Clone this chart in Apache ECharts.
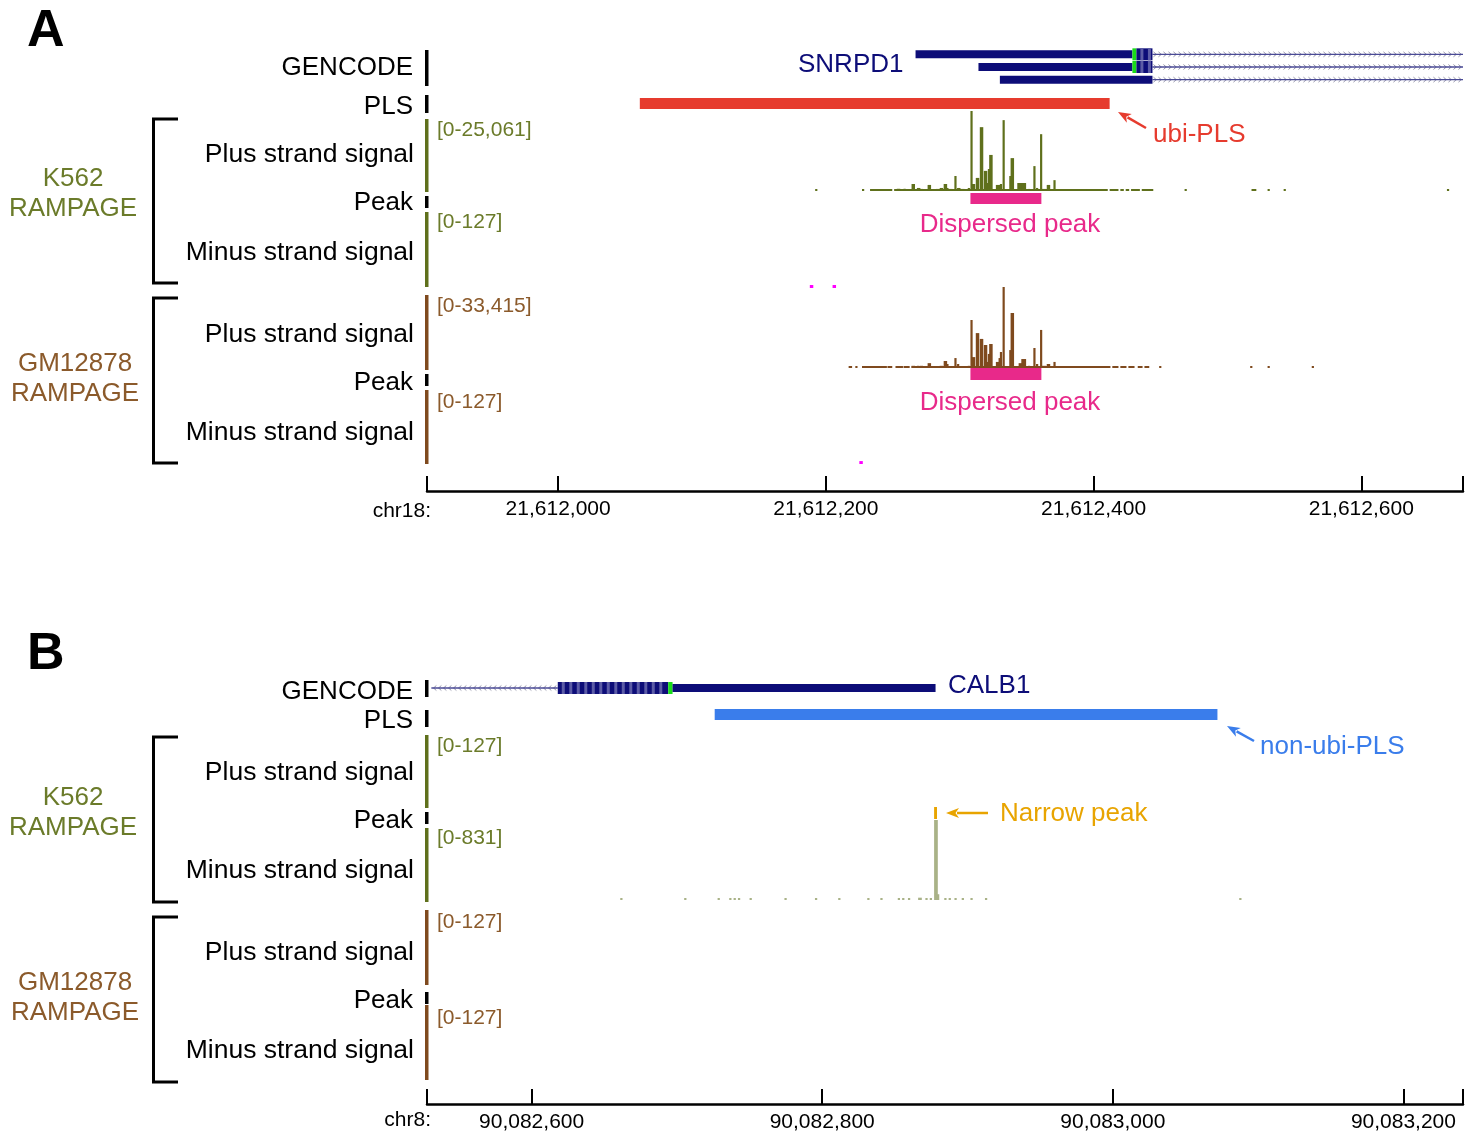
<!DOCTYPE html>
<html>
<head>
<meta charset="utf-8">
<script src="https://cdn.jsdelivr.net/npm/echarts@6/dist/echarts.min.js"></script>
<style>
  html, body { margin: 0; padding: 0; background: #fff; }
  #chart { width: 1475px; height: 1133px; }
</style>
</head>
<body>
<div id="chart"></div>
<script>
// ---------- panel A : chr18, SNRPD1 ----------
const rangeA = [21611902, 21612676]
const ticksA = [21612000, 21612200, 21612400, 21612600]

// gene parts: [start, end, transcript row, part]
const snrpd1 = [
  [21612444, 21612676, 0, 'intron'],
  [21612267, 21612429, 0, 'cds'],
  [21612429, 21612432, 0, 'start'],
  [21612432, 21612444, 0, 'utr'],
  [21612444, 21612676, 1, 'intron'],
  [21612314, 21612429, 1, 'cds'],
  [21612429, 21612432, 1, 'start'],
  [21612432, 21612444, 1, 'utr'],
  [21612444, 21612676, 2, 'intron'],
  [21612330, 21612444, 2, 'cds']
]
const plsA = [[21612061, 21612412]]
const k562PeakA = [[21612308, 21612361]]
const gmPeakA = [[21612308, 21612361]]

// signal: [start, end, value]
const k562PlusA = [
  [21612192, 21612193, 550], [21612227, 21612228, 550], [21612233, 21612249, 550],
  [21612251, 21612259, 550], [21612259, 21612395, 550], [21612395, 21612410, 550],
  [21612412, 21612418, 550], [21612420, 21612422, 550], [21612424, 21612426, 550],
  [21612428, 21612434, 550], [21612436, 21612444, 550], [21612468, 21612469, 550],
  [21612518, 21612521, 550], [21612530, 21612531, 550], [21612542, 21612543, 550],
  [21612664, 21612665, 550],
  [21612253, 21612255, 700], [21612258, 21612259, 700], [21612264, 21612266, 2200],
  [21612268, 21612270, 950], [21612270, 21612272, 650], [21612276, 21612278, 1900],
  [21612282, 21612284, 650], [21612285, 21612287, 950], [21612288, 21612290, 2200],
  [21612290, 21612291, 950], [21612292, 21612294, 650], [21612296, 21612297, 4700],
  [21612298, 21612300, 950], [21612301, 21612303, 650], [21612306, 21612307, 950],
  [21612308, 21612309, 25061], [21612309, 21612311, 2200], [21612312, 21612314, 4100],
  [21612315, 21612317, 20000], [21612318, 21612320, 6300], [21612320, 21612321, 2500],
  [21612321, 21612322, 6900], [21612322, 21612324, 11300], [21612327, 21612330, 1900],
  [21612330, 21612331, 2200], [21612332, 21612333, 22200], [21612337, 21612338, 4700],
  [21612338, 21612340, 10300], [21612343, 21612346, 2500], [21612346, 21612349, 2500],
  [21612351, 21612352, 650], [21612355, 21612356, 7800], [21612357, 21612358, 950],
  [21612360, 21612361, 17800], [21612361, 21612364, 650], [21612365, 21612367, 1900],
  [21612370, 21612371, 3400]
]
const k562MinusA = [[21612188, 21612190, 5], [21612205, 21612207, 5]]
const gmPlusA = [
  [21612217, 21612219, 750], [21612222, 21612223, 750], [21612227, 21612245, 750],
  [21612246, 21612249, 750], [21612252, 21612257, 750], [21612258, 21612262, 750],
  [21612264, 21612412, 750], [21612414, 21612418, 750], [21612420, 21612424, 750],
  [21612426, 21612430, 750], [21612433, 21612436, 750], [21612438, 21612441, 750],
  [21612449, 21612450, 750], [21612517, 21612518, 750], [21612530, 21612531, 750],
  [21612563, 21612564, 750],
  [21612264, 21612266, 900], [21612268, 21612269, 900], [21612270, 21612272, 900],
  [21612276, 21612278, 2000], [21612285, 21612287, 900], [21612288, 21612290, 2900],
  [21612290, 21612291, 1650], [21612296, 21612297, 4100], [21612298, 21612299, 1650],
  [21612306, 21612307, 900], [21612308, 21612309, 19800], [21612309, 21612311, 4500],
  [21612312, 21612314, 14400], [21612315, 21612317, 12000], [21612318, 21612320, 9500],
  [21612320, 21612321, 2500], [21612321, 21612322, 5800], [21612322, 21612324, 9900],
  [21612327, 21612329, 2500], [21612329, 21612330, 4100], [21612330, 21612331, 6600],
  [21612332, 21612333, 33415], [21612337, 21612338, 7400], [21612338, 21612340, 22700],
  [21612344, 21612346, 2000], [21612346, 21612349, 3700], [21612351, 21612352, 900],
  [21612355, 21612356, 8250], [21612357, 21612358, 1650], [21612360, 21612361, 15700],
  [21612361, 21612364, 900], [21612365, 21612367, 1650], [21612370, 21612371, 2500]
]
const gmMinusA = [[21612225, 21612227, 5]]

// ---------- panel B : chr8, CALB1 ----------
const rangeB = [90082528, 90083241]
const ticksB = [90082600, 90082800, 90083000, 90083200]

const calb1 = [
  [90082531, 90082618, 0, 'intron'],
  [90082618, 90082694, 0, 'utr'],
  [90082694, 90082697, 0, 'start'],
  [90082697, 90082878, 0, 'cds']
]
const plsB = [[90082726, 90083072]]
const k562PeakB = [[90082877, 90082879]]
const k562MinusB = [
  [90082661, 90082662, 12], [90082705, 90082706, 12], [90082728, 90082729, 12],
  [90082736, 90082737, 20], [90082739, 90082740, 12], [90082742, 90082743, 16],
  [90082750, 90082751, 12], [90082774, 90082775, 12], [90082795, 90082796, 12],
  [90082811, 90082812, 12], [90082831, 90082832, 12], [90082840, 90082841, 16],
  [90082852, 90082853, 12], [90082855, 90082856, 20], [90082859, 90082860, 12],
  [90082866, 90082868, 24], [90082871, 90082872, 16], [90082874, 90082875, 20],
  [90082877, 90082879, 831], [90082879, 90082880, 60], [90082884, 90082885, 20],
  [90082887, 90082888, 12], [90082891, 90082892, 16], [90082896, 90082897, 12],
  [90082902, 90082903, 12], [90082912, 90082913, 12], [90083087, 90083088, 12]
]

// ---------- styles ----------
const FONT = '"Liberation Sans", Arial, Helvetica, sans-serif'
const NAVY = '#0d0d78'
const OLIVE = '#5f701c'
const OLIVE_TXT = '#6b7b2a'
const BROWN = '#7f4a1e'
const BROWN_TXT = '#8b5a2b'
const PINK = '#e8298a'
const RED = '#e63b2e'
const BLUE = '#3a7deb'
const ORANGE = '#e8a400'
const PALE = '#a9b287'
const MAGENTA = '#ff00ff'

// track layout: [top, height]
const tracks = [
  { pos: [48, 38], range: rangeA, type: 'gene', data: snrpd1, rows: 3, strand: '+' },
  { pos: [98, 11], range: rangeA, type: 'box', data: plsA, color: RED },
  { pos: [111, 80], range: rangeA, type: 'signal', data: k562PlusA, max: 25061, color: OLIVE },
  { pos: [193, 11], range: rangeA, type: 'box', data: k562PeakA, color: PINK },
  { pos: [212, 76], range: rangeA, type: 'signal', data: k562MinusA, max: 127, color: MAGENTA },
  { pos: [287, 81], range: rangeA, type: 'signal', data: gmPlusA, max: 33415, color: BROWN },
  { pos: [368, 12], range: rangeA, type: 'box', data: gmPeakA, color: PINK },
  { pos: [390, 74], range: rangeA, type: 'signal', data: gmMinusA, max: 127, color: MAGENTA },
  { pos: [476, 15], range: rangeA, type: 'axis', ticks: ticksA },

  { pos: [682, 12], range: rangeB, type: 'gene', data: calb1, rows: 1, strand: '-' },
  { pos: [709, 11], range: rangeB, type: 'box', data: plsB, color: BLUE },
  { pos: [807, 12], range: rangeB, type: 'box', data: k562PeakB, color: ORANGE },
  { pos: [820, 80], range: rangeB, type: 'signal', data: k562MinusB, max: 831, color: PALE },
  { pos: [1089, 15], range: rangeB, type: 'axis', ticks: ticksB }
]

function renderSignal(color) {
  return function (params, api) {
    const a = api.coord([api.value(0), api.value(2)])
    const b = api.coord([api.value(1), 0])
    const h = Math.max(b[1] - a[1], 2)
    return {
      type: 'rect',
      shape: { x: a[0], y: b[1] - h, width: Math.max(b[0] - a[0] + 0.8, 2.2), height: h },
      style: { fill: color }
    }
  }
}

function renderBox(color) {
  return function (params, api) {
    const a = api.coord([api.value(0), 1])
    const b = api.coord([api.value(1), 0])
    return {
      type: 'rect',
      shape: { x: a[0], y: a[1], width: Math.max(b[0] - a[0], 2), height: b[1] - a[1] },
      style: { fill: color }
    }
  }
}

function renderGene(parts, strand) {
  return function (params, api) {
    const d = parts[params.dataIndex]
    const a = api.coord([d[0], d[2]])
    const b = api.coord([d[1], d[2]])
    const x = a[0], w = b[0] - a[0], y = a[1]
    if (d[3] === 'intron') {
      const children = []
      const dx = strand === '+' ? 2 : -2
      for (let cx = x + 3; cx < x + w - 1; cx += 5) {
        children.push({
          type: 'polyline',
          shape: { points: [[cx - dx, y - 2.5], [cx + dx * 0.4, y], [cx - dx, y + 2.5]] },
          style: { stroke: '#9696aa', lineWidth: 1, fill: null }
        })
      }
      children.push({ type: 'line', shape: { x1: x, y1: y, x2: x + w, y2: y }, style: { stroke: '#4a4a96', lineWidth: 1.3 } })
      return { type: 'group', children: children }
    }
    if (d[3] === 'cds') {
      return { type: 'rect', shape: { x: x, y: y - 4, width: w, height: 8 }, style: { fill: NAVY } }
    }
    if (d[3] === 'start') {
      return { type: 'rect', shape: { x: x, y: y - 6, width: w, height: 12 }, style: { fill: '#19dc19' } }
    }
    // utr : striped box
    const children = [{ type: 'rect', shape: { x: x, y: y - 6, width: w, height: 12 }, style: { fill: NAVY } }]
    for (let sx = x + 4; sx < x + w - 2; sx += 7.5) {
      children.push({ type: 'rect', shape: { x: sx, y: y - 6, width: 3, height: 12 }, style: { fill: '#5c5ca6' } })
    }
    return { type: 'group', children: children }
  }
}

const grid = [], xAxis = [], yAxis = [], series = []
tracks.forEach(function (t, i) {
  grid.push({ left: 427, width: 1036, top: t.pos[0], height: t.pos[1] })
  const xa = { gridIndex: i, type: 'value', min: t.range[0], max: t.range[1], show: false }
  if (t.type === 'axis') {
    xa.show = true
    xa.position = 'bottom'
    xa.axisLine = { show: true, lineStyle: { color: '#000', width: 2.5 } }
    xa.axisTick = { show: true, inside: true, length: 15, lineStyle: { color: '#000', width: 2 },
      customValues: [t.range[0]].concat(t.ticks, [t.range[1]]) }
    xa.axisLabel = { customValues: t.ticks, color: '#000', fontSize: 21, fontFamily: FONT, margin: 8,
      formatter: function (v) { return v.toLocaleString('en-US') } }
    xa.splitLine = { show: false }
  }
  xAxis.push(xa)
  if (t.type === 'gene') {
    const rows = []
    for (let r = 0; r < t.rows; r++) rows.push(r)
    yAxis.push({ gridIndex: i, type: 'category', data: rows, inverse: true, show: false })
    series.push({ type: 'custom', xAxisIndex: i, yAxisIndex: i, data: t.data, encode: { x: [0, 1], y: 2 },
      renderItem: renderGene(t.data, t.strand), silent: true })
  } else if (t.type === 'box') {
    yAxis.push({ gridIndex: i, type: 'value', min: 0, max: 1, show: false })
    series.push({ type: 'custom', xAxisIndex: i, yAxisIndex: i, data: t.data, encode: { x: [0, 1] },
      renderItem: renderBox(t.color), silent: true })
  } else if (t.type === 'signal') {
    yAxis.push({ gridIndex: i, type: 'value', min: 0, max: t.max, show: false })
    series.push({ type: 'custom', xAxisIndex: i, yAxisIndex: i, data: t.data, encode: { x: [0, 1], y: 2 },
      renderItem: renderSignal(t.color), clip: true, silent: true })
  } else {
    yAxis.push({ gridIndex: i, type: 'value', min: 0, max: 1, show: false })
  }
})

// ---------- labels and decorations ----------
function txt(x, y, s, size, color, align, weight) {
  return {
    type: 'text', x: x, y: y + 2, silent: true,
    style: {
      text: s, fill: color, font: (weight || 'normal') + ' ' + size + 'px ' + FONT,
      align: align || 'left', verticalAlign: 'middle',
      textAlign: align || 'left', textVerticalAlign: 'middle'
    }
  }
}
function bar(x, y, w, h, color) {
  return { type: 'rect', silent: true, shape: { x: x, y: y, width: w, height: h }, style: { fill: color } }
}
function bracket(y1, y2) {
  return { type: 'polyline', silent: true, shape: { points: [[178, y1], [153.5, y1], [153.5, y2], [178, y2]] },
    style: { stroke: '#000', lineWidth: 3, fill: null } }
}
function arrow(x1, y1, x2, y2, color) {
  const len = Math.hypot(x2 - x1, y2 - y1)
  const ux = (x2 - x1) / len, uy = (y2 - y1) / len
  const bx = x2 - ux * 13, by = y2 - uy * 13
  const px = -uy * 5, py = ux * 5
  return {
    type: 'group', silent: true,
    children: [
      { type: 'line', shape: { x1: x1, y1: y1, x2: bx + ux * 2, y2: by + uy * 2 }, style: { stroke: color, lineWidth: 2.5 } },
      { type: 'polygon', shape: { points: [[x2, y2], [bx + px, by + py], [bx + ux * 3.5, by + uy * 3.5], [bx - px, by - py]] },
        style: { fill: color } }
    ]
  }
}

const graphic = [
  // panel A
  txt(27, 30, 'A', 52, '#000', 'left', 'bold'),
  txt(413, 66, 'GENCODE', 26, '#000', 'right'),
  txt(413, 105, 'PLS', 26, '#000', 'right'),
  txt(414, 153, 'Plus strand signal', 26.5, '#000', 'right'),
  txt(413, 201, 'Peak', 26, '#000', 'right'),
  txt(414, 251, 'Minus strand signal', 26.5, '#000', 'right'),
  txt(414, 333, 'Plus strand signal', 26.5, '#000', 'right'),
  txt(413, 381, 'Peak', 26, '#000', 'right'),
  txt(414, 431, 'Minus strand signal', 26.5, '#000', 'right'),
  txt(73, 177, 'K562', 26, OLIVE_TXT, 'center'),
  txt(73, 207, 'RAMPAGE', 26, OLIVE_TXT, 'center'),
  txt(75, 362, 'GM12878', 26, BROWN_TXT, 'center'),
  txt(75, 392, 'RAMPAGE', 26, BROWN_TXT, 'center'),
  bracket(119, 283), bracket(298, 463),
  bar(425, 50, 3.5, 36, '#000'), bar(425, 95, 3.5, 18, '#000'),
  bar(425, 119, 3.5, 73, OLIVE), bar(425, 196, 3.5, 12, '#000'), bar(425, 212, 3.5, 75, OLIVE),
  bar(425, 295, 3.5, 75, BROWN), bar(425, 374, 3.5, 12, '#000'), bar(425, 390, 3.5, 74, BROWN),
  txt(437, 128, '[0-25,061]', 21, OLIVE_TXT),
  txt(437, 220, '[0-127]', 21, OLIVE_TXT),
  txt(437, 304, '[0-33,415]', 21, BROWN_TXT),
  txt(437, 400, '[0-127]', 21, BROWN_TXT),
  txt(798, 63, 'SNRPD1', 26, NAVY),
  txt(1153, 133, 'ubi-PLS', 26, RED),
  arrow(1146, 128, 1118, 112, RED),
  txt(1010, 223, 'Dispersed peak', 26, PINK, 'center'),
  txt(1010, 401, 'Dispersed peak', 26, PINK, 'center'),
  txt(431, 509, 'chr18:', 21, '#000', 'right'),
  // panel B
  txt(27, 653, 'B', 52, '#000', 'left', 'bold'),
  txt(413, 690, 'GENCODE', 26, '#000', 'right'),
  txt(413, 719, 'PLS', 26, '#000', 'right'),
  txt(414, 771, 'Plus strand signal', 26.5, '#000', 'right'),
  txt(413, 819, 'Peak', 26, '#000', 'right'),
  txt(414, 869, 'Minus strand signal', 26.5, '#000', 'right'),
  txt(414, 951, 'Plus strand signal', 26.5, '#000', 'right'),
  txt(413, 999, 'Peak', 26, '#000', 'right'),
  txt(414, 1049, 'Minus strand signal', 26.5, '#000', 'right'),
  txt(73, 796, 'K562', 26, OLIVE_TXT, 'center'),
  txt(73, 826, 'RAMPAGE', 26, OLIVE_TXT, 'center'),
  txt(75, 981, 'GM12878', 26, BROWN_TXT, 'center'),
  txt(75, 1011, 'RAMPAGE', 26, BROWN_TXT, 'center'),
  bracket(737, 902), bracket(917, 1082),
  bar(425, 680, 3.5, 17, '#000'), bar(425, 710, 3.5, 17, '#000'),
  bar(425, 735, 3.5, 73, OLIVE), bar(425, 812, 3.5, 12, '#000'), bar(425, 828, 3.5, 74, OLIVE),
  bar(425, 910, 3.5, 75, BROWN), bar(425, 992, 3.5, 12, '#000'), bar(425, 1005, 3.5, 75, BROWN),
  txt(437, 744, '[0-127]', 21, OLIVE_TXT),
  txt(437, 836, '[0-831]', 21, OLIVE_TXT),
  txt(437, 920, '[0-127]', 21, BROWN_TXT),
  txt(437, 1016, '[0-127]', 21, BROWN_TXT),
  txt(948, 684, 'CALB1', 26, NAVY),
  txt(1260, 745, 'non-ubi-PLS', 26, BLUE),
  arrow(1254, 741, 1227, 726, BLUE),
  txt(1000, 812, 'Narrow peak', 26, ORANGE),
  arrow(988, 813, 946, 813, ORANGE),
  txt(431, 1118, 'chr8:', 21, '#000', 'right')
]

const chart = echarts.init(document.getElementById('chart'))
chart.setOption({
  animation: false,
  backgroundColor: '#fff',
  grid: grid,
  xAxis: xAxis,
  yAxis: yAxis,
  series: series,
  graphic: graphic
})
</script>
</body>
</html>
